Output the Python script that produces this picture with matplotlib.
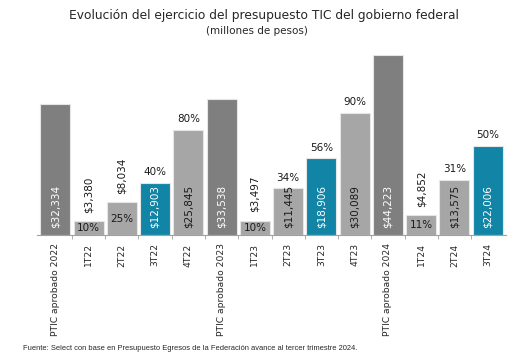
import matplotlib
matplotlib.use("Agg")
import matplotlib.pyplot as plt
import numpy as np

# data
categorias = ['PTIC aprobado 2022', '1T22', '2T22', '3T22', '4T22',
              'PTIC aprobado 2023', '1T23', '2T23', '3T23', '4T23',
              'PTIC aprobado 2024', '1T24', '2T24', '3T24']
montos = [32334, 3380, 8034, 12903, 25845,
          33538, 3497, 11445, 18906, 30089,
          44223, 4852, 13575, 22006]
avance = [None, 10, 25, 40, 80,
          None, 10, 34, 56, 90,
          None, 11, 31, 50]

C_PTIC = '#7f7f7f'
C_TRIM = '#a6a6a6'
C_3T = '#1285a6'

colores = []
for c in categorias:
    if c.startswith('PTIC'):
        colores.append(C_PTIC)
    elif c.startswith('3T'):
        colores.append(C_3T)
    else:
        colores.append(C_TRIM)

W, H = 526, 364
fig = plt.figure(figsize=(W / 100, H / 100), dpi=100)
# axes in pixel coords: left 37, right 506, baseline 235, top 48
ax = fig.add_axes([37 / W, (H - 235) / H, (506 - 37) / W, (235 - 48) / H])

x = np.arange(len(categorias))
bars = ax.bar(x, montos, width=0.9, color=colores, edgecolor='#e6e6e6', linewidth=0.8)

ax.set_xlim(-0.55, 13.55)
ax.set_ylim(0, 46000)
for s in ['top', 'right', 'left']:
    ax.spines[s].set_visible(False)
ax.spines['bottom'].set_color('#a0a0a0')
ax.spines['bottom'].set_linewidth(0.8)
ax.set_yticks([])
ax.set_xticks(x)
ax.set_xticklabels(categorias, rotation=90, fontsize=6.6, color='#262626')
ax.tick_params(axis='x', which='major', length=0, pad=6)
ax.set_xticks(x[:-1] + 0.5, minor=True)
ax.tick_params(axis='x', which='minor', length=3, color='#a0a0a0')

fs = 7.5
for xi, v, p, col in zip(x, montos, avance, colores):
    txt = '${:,}'.format(v)
    tcol = 'white' if col != C_TRIM else '#1a1a1a'
    if v < 9000:
        # small bar: amount above, percentage inside
        ax.annotate(txt, (xi, v), xytext=(0, 6), textcoords='offset points',
                    rotation=90, ha='center', va='bottom', fontsize=fs, color='#1a1a1a')
        ax.text(xi, v / 2, '{}%'.format(p), ha='center', va='center',
                fontsize=fs, color='#1a1a1a')
    else:
        ax.annotate(txt, (xi, 0), xytext=(0, 5), textcoords='offset points',
                    rotation=90, ha='center', va='bottom', fontsize=fs, color=tcol)
        if p is not None:
            ax.annotate('{}%'.format(p), (xi, v), xytext=(0, 4), textcoords='offset points',
                        ha='center', va='bottom', fontsize=fs, color='#1a1a1a')

fig.text(264 / W, 1 - 15 / H, 'Evolución del ejercicio del presupuesto TIC del gobierno federal',
         ha='center', va='center', fontsize=8.8, color='#262626')
fig.text(257 / W, 1 - 31 / H, '(millones de pesos)', ha='center', va='center',
         fontsize=7.5, color='#262626')
fig.text(23 / W, 1 - 349 / H,
         'Fuente: Select con base en Presupuesto Egresos de la Federación avance al tercer trimestre 2024.',
         ha='left', va='center', fontsize=5.4, color='#262626', family='Liberation Sans')

fig.savefig('out.png', dpi=100)
